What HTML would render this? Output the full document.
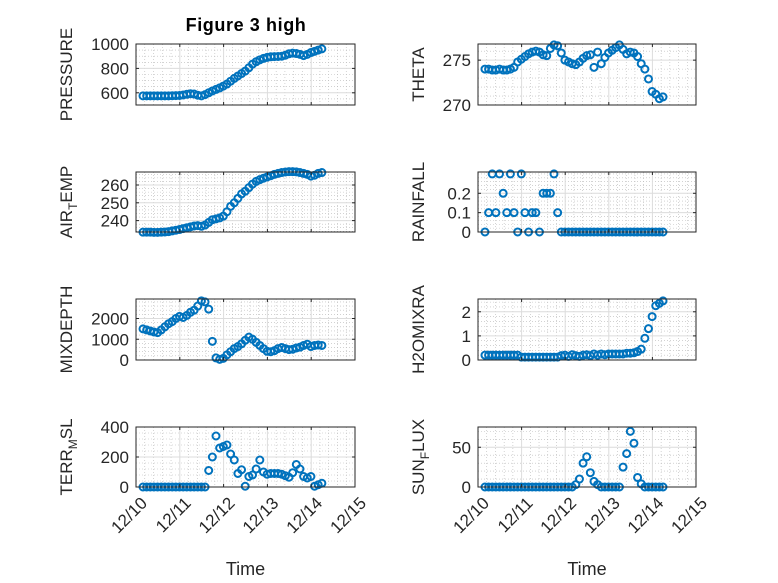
<!DOCTYPE html>
<html><head><meta charset="utf-8"><style>
html,body{margin:0;padding:0;background:#fff;}
svg{display:block;font-family:"Liberation Sans",sans-serif;}
</style></head><body>
<svg id="fig" width="778" height="583" viewBox="0 0 778 583" xmlns="http://www.w3.org/2000/svg">
<text x="246" y="31" text-anchor="middle" font-size="18" font-weight="bold" letter-spacing="0.6" fill="#000">Figure 3 high</text>
</svg>
<script>
// time in days since 12/10 (2-hour samples)
const t0 = 0.16;
const dayTicks = ["12/10","12/11","12/12","12/13","12/14","12/15"];
const pressure = [575,575,575,575,575,575,575,575,576,577,578,582,588,592,590,580,575,585,600,615,628,640,655,672,695,718,738,758,778,805,835,855,870,882,890,895,897,898,900,908,920,925,922,915,905,915,930,940,950,960];
const airTemp = [233.5,233.5,233.5,233.4,233.4,233.5,233.6,233.8,234.2,234.6,235,235.5,236,236.5,237,237.2,236.8,237.5,239,240.5,241,241.5,242.5,245,248,250,252.5,255,256.5,258.5,260.5,262,263,263.8,264.5,265.2,266,266.5,267,267.3,267.5,267.5,267.4,267,266.5,266,265,265.5,266.5,267];
const theta = [274,274,273.9,273.9,274,273.9,273.9,274,274.2,274.8,275.1,275.4,275.7,275.9,276,275.9,275.6,275.5,276.3,276.7,276.6,275.8,275,274.8,274.6,274.5,274.8,275.2,275.5,275.6,274.2,275.9,274.6,275.3,275.8,276.1,276.4,276.7,276.2,275.7,275.9,275.8,275.4,274.6,274,272.9,271.5,271.2,270.7,270.9];
const rainfall = [0,0.1,0.3,0.1,0.3,0.2,0.1,0.3,0.1,0,0.3,0.1,0,0.1,0.1,0,0.2,0.2,0.2,0.3,0.1,0,0,0,0,0,0,0,0,0,0,0,0,0,0,0,0,0,0,0,0,0,0,0,0,0,0,0,0,0];
const mixDepth = [1500,1450,1400,1350,1320,1450,1600,1750,1850,2000,2100,2050,2150,2300,2400,2600,2850,2800,2450,900,100,30,80,250,400,550,650,780,950,1100,1000,850,700,550,420,400,450,550,600,550,500,520,580,620,700,760,650,700,720,700];
const h2oMix = [0.2,0.2,0.2,0.2,0.2,0.2,0.2,0.2,0.2,0.2,0.12,0.12,0.12,0.12,0.12,0.12,0.12,0.12,0.12,0.12,0.12,0.18,0.2,0.15,0.22,0.18,0.15,0.2,0.22,0.18,0.25,0.2,0.25,0.22,0.25,0.25,0.25,0.25,0.25,0.28,0.28,0.3,0.35,0.45,0.9,1.3,1.8,2.25,2.35,2.45];
const terrMsl = [0,0,0,0,0,0,0,0,0,0,0,0,0,0,0,0,0,0,110,200,340,260,270,280,220,180,90,115,5,70,80,120,180,100,85,90,90,90,85,75,65,95,150,120,70,60,70,5,15,25];
const sunFlux = [0,0,0,0,0,0,0,0,0,0,0,0,0,0,0,0,0,0,0,0,0,0,0,0,0,3,10,30,38,18,7,3,0,0,0,0,0,0,25,42,70,55,12,4,0,0,0,0,0,0];

const NS="http://www.w3.org/2000/svg";
const svg=document.getElementById('fig');
function mk(tag,attrs,parent){const e=document.createElementNS(NS,tag);for(const k in attrs)e.setAttribute(k,attrs[k]);(parent||svg).appendChild(e);return e;}

const cols=[[136,355],[478,696]];
const rows=[[44,105],[172,232],[299,360],[427,487]];
const panels=[
 {name:'pressure',data:pressure,c:0,r:0,lim:[500,1000],ticks:[600,800,1000],minor:50,label:['PRESSURE']},
 {name:'theta',data:theta,c:1,r:0,lim:[270,276.8],ticks:[270,275],minor:1,label:['THETA']},
 {name:'air-temp',data:airTemp,c:0,r:1,lim:[233.6,267.3],ticks:[240,250,260],minor:2,label:['AIR','T','EMP']},
 {name:'rainfall',data:rainfall,c:1,r:1,lim:[0,0.31],ticks:[0,0.1,0.2],minor:0.02,label:['RAINFALL']},
 {name:'mix-depth',data:mixDepth,c:0,r:2,lim:[0,2940],ticks:[0,1000,2000],minor:200,label:['MIXDEPTH']},
 {name:'h2o-mix',data:h2oMix,c:1,r:2,lim:[0,2.53],ticks:[0,1,2],minor:0.2,label:['H2OMIXRA']},
 {name:'terr-msl',data:terrMsl,c:0,r:3,lim:[0,400],ticks:[0,200,400],minor:40,label:['TERR','M','SL']},
 {name:'sun-flux',data:sunFlux,c:1,r:3,lim:[0,75.5],ticks:[0,50],minor:10,label:['SUN','F','LUX']}
];
panels.forEach(p=>{
 const [x0,x1]=cols[p.c],[y0,y1]=rows[p.r];
 const X=d=>x0+(x1-x0)*d/5;
 const Y=v=>y1-(y1-y0)*(v-p.lim[0])/(p.lim[1]-p.lim[0]);
 const g=mk('g',{});
 
 
 mk('rect',{x:x0,y:y0,width:x1-x0,height:y1-y0,fill:'#fff'},g);
 for(let d=0;d<5;d+=0.2){if(Math.abs(d-Math.round(d))<1e-6)continue;mk('line',{x1:X(d),x2:X(d),y1:y0,y2:y1,stroke:'#b8b8b8','stroke-width':0.6,'stroke-dasharray':'1 2'},g);}
 for(let v=Math.ceil(p.lim[0]/p.minor)*p.minor;v<=p.lim[1];v+=p.minor){if(p.ticks.some(t=>Math.abs(t-v)<p.minor*0.01))continue;mk('line',{x1:x0,x2:x1,y1:Y(v),y2:Y(v),stroke:'#b8b8b8','stroke-width':0.6,'stroke-dasharray':'1 2'},g);}
 for(let d=1;d<5;d++)mk('line',{x1:X(d),x2:X(d),y1:y0,y2:y1,stroke:'#dcdcdc','stroke-width':1},g);
 p.ticks.forEach(v=>{mk('line',{x1:x0,x2:x1,y1:Y(v),y2:Y(v),stroke:'#dcdcdc','stroke-width':1},g);});
 const dg=mk('g',{},g);
 
 
 p.data.forEach((v,i)=>{
  const c=mk('circle',{cx:X(t0+i/12),cy:Y(v),r:3.5,fill:'none',stroke:'#0072BD','stroke-width':2},dg);
  
  
 });
 mk('rect',{x:x0,y:y0,width:x1-x0,height:y1-y0,fill:'none',stroke:'#262626','stroke-width':1},g);
 for(let d=0;d<=5;d++){mk('line',{x1:X(d),x2:X(d),y1:y1,y2:y1-3,stroke:'#262626'},g);mk('line',{x1:X(d),x2:X(d),y1:y0,y2:y0+3,stroke:'#262626'},g);}
 p.ticks.forEach(v=>{
  mk('line',{x1:x0,x2:x0+3,y1:Y(v),y2:Y(v),stroke:'#262626'},g);
  mk('line',{x1:x1,x2:x1-3,y1:Y(v),y2:Y(v),stroke:'#262626'},g);
  const tl=mk('text',{x:x0-7,y:Y(v)+6,'text-anchor':'end','font-size':17,fill:'#262626'},g);
  tl.textContent=String(v);
  
  
 });
 const lx=p.c===0?72:424, ly=(y0+y1)/2;
 const yl=mk('text',{transform:`translate(${lx},${ly}) rotate(-90)`,'text-anchor':'middle','font-size':17,fill:'#262626'},g);
 
 
 p.label.forEach((s,k)=>{const ts=mk('tspan',{},yl);if(k===1){ts.setAttribute('font-size','12');ts.setAttribute('dy','5');}if(k===2){ts.setAttribute('dy','-5');}ts.textContent=s;});
 if(p.r===3){
  dayTicks.forEach((s,d)=>{
   const xt=mk('text',{transform:`translate(${X(d)+9},${y1+14}) rotate(-45)`,'text-anchor':'end','font-size':17,fill:'#262626','dominant-baseline':'middle'},g);
   xt.textContent=s;
   
   
  });
  const xl=mk('text',{x:(x0+x1)/2,y:575,'text-anchor':'middle','font-size':18,fill:'#262626'},g);
  xl.textContent='Time';
  
  
 }
});
</script>
</body></html>
